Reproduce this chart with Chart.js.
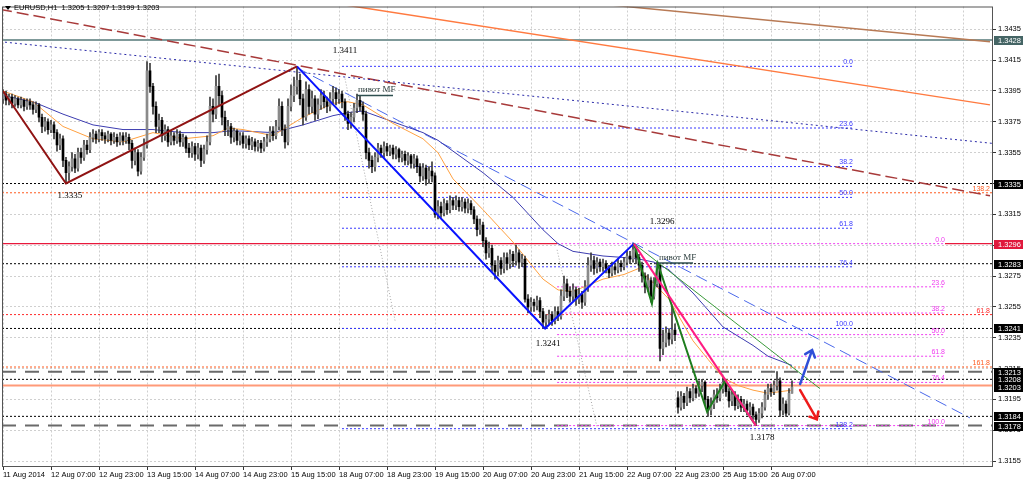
<!DOCTYPE html>
<html>
<head>
<meta charset="utf-8">
<script src="https://cdn.jsdelivr.net/npm/chart.js@4.4.1/dist/chart.umd.min.js"></script>
<style>
  html, body { margin: 0; padding: 0; background: #fff; }
  #wrap { width: 1024px; height: 482px; }
</style>
</head>
<body>
<div id="wrap"><canvas id="eurusdChart"></canvas></div>
<script>
// EURUSD H1, 11 Aug 2014 15:00 .. 26 Aug 2014 14:00, one entry per hourly bar
const closes = [
  1.3393,1.3389,1.3391,1.3387,1.3390,1.3386,1.3389,1.3385,1.3388,1.3386,
  1.3383,1.3386,1.3378,1.3372,1.3375,1.3370,1.3373,1.3368,1.3360,1.3364,
  1.3350,1.3342,1.3346,1.3351,1.3345,1.3355,1.3352,1.3360,1.3357,1.3365,
  1.3367,1.3364,1.3368,1.3366,1.3364,1.3367,1.3363,1.3365,1.3362,1.3366,
  1.3363,1.3365,1.3361,1.3350,1.3355,1.3343,1.3352,1.3360,1.3408,1.3398,
  1.3385,1.3372,1.3376,1.3366,1.3370,1.3362,1.3366,1.3363,1.3367,1.3362,
  1.3365,1.3358,1.3355,1.3359,1.3354,1.3358,1.3350,1.3357,1.3362,1.3385,
  1.3380,1.3398,1.3392,1.3378,1.3370,1.3372,1.3365,1.3369,1.3363,1.3366,
  1.3361,1.3364,1.3360,1.3362,1.3359,1.3361,1.3358,1.3362,1.3364,1.3369,
  1.3366,1.3372,1.3385,1.3370,1.3362,1.3385,1.3392,1.3398,1.3402,1.3390,
  1.3378,1.3396,1.3385,1.3390,1.3380,1.3386,1.3392,1.3388,1.3385,1.3390,
  1.3394,1.3390,1.3393,1.3388,1.3380,1.3374,1.3378,1.3384,1.3389,1.3385,
  1.3380,1.3355,1.3350,1.3346,1.3352,1.3358,1.3355,1.3359,1.3356,1.3358,
  1.3354,1.3357,1.3352,1.3354,1.3350,1.3353,1.3348,1.3351,1.3346,1.3340,
  1.3345,1.3338,1.3343,1.3340,1.3315,1.3320,1.3316,1.3322,1.3318,1.3324,
  1.3321,1.3324,1.3320,1.3323,1.3319,1.3322,1.3318,1.3312,1.3305,1.3308,
  1.3298,1.3290,1.3293,1.3282,1.3278,1.3285,1.3280,1.3287,1.3283,1.3289,
  1.3285,1.3290,1.3284,1.3286,1.3260,1.3255,1.3258,1.3256,1.3259,1.3252,
  1.3245,1.3247,1.3250,1.3246,1.3252,1.3249,1.3262,1.3270,1.3265,1.3262,
  1.3266,1.3260,1.3263,1.3258,1.3268,1.3282,1.3285,1.3280,1.3284,1.3281,
  1.3283,1.3280,1.3277,1.3281,1.3279,1.3283,1.3281,1.3284,1.3288,1.3286,
  1.3292,1.3287,1.3282,1.3275,1.3268,1.3272,1.3262,1.3270,1.3282,1.3228,
  1.3232,1.3238,1.3234,1.3240,1.3237,1.3190,1.3197,1.3193,1.3200,1.3196,
  1.3202,1.3199,1.3204,1.3206,1.3195,1.3188,1.3192,1.3198,1.3196,1.3202,
  1.3206,1.3200,1.3194,1.3198,1.3191,1.3195,1.3190,1.3192,1.3188,1.3190,
  1.3185,1.3182,1.3186,1.3190,1.3198,1.3202,1.3200,1.3204,1.3207,1.3188,
  1.3192,1.3186,1.3199,1.3203
];
const highs = [
  1.3396,1.3395,1.3393,1.3393,1.3392,1.3391,1.3391,1.3390,1.3390,1.3390,
  1.3388,1.3388,1.3387,1.3380,1.3378,1.3377,1.3376,1.3375,1.3370,1.3367,
  1.3366,1.3352,1.3349,1.3355,1.3354,1.3358,1.3358,1.3363,1.3363,1.3368,
  1.3370,1.3369,1.3370,1.3370,1.3368,1.3369,1.3368,1.3368,1.3367,1.3368,
  1.3368,1.3368,1.3367,1.3363,1.3358,1.3357,1.3355,1.3364,1.3414,1.3413,
  1.3400,1.3388,1.3380,1.3378,1.3373,1.3372,1.3369,1.3368,1.3370,1.3369,
  1.3367,1.3366,1.3361,1.3362,1.3361,1.3361,1.3360,1.3360,1.3366,1.3391,
  1.3390,1.3405,1.3406,1.3395,1.3382,1.3376,1.3374,1.3371,1.3370,1.3368,
  1.3368,1.3366,1.3366,1.3365,1.3364,1.3363,1.3363,1.3365,1.3367,1.3372,
  1.3372,1.3376,1.3390,1.3388,1.3373,1.3390,1.3399,1.3404,1.3411,1.3406,
  1.3393,1.3401,1.3399,1.3395,1.3392,1.3390,1.3396,1.3395,1.3391,1.3394,
  1.3398,1.3397,1.3396,1.3395,1.3390,1.3382,1.3381,1.3387,1.3393,1.3392,
  1.3388,1.3382,1.3358,1.3353,1.3355,1.3361,1.3360,1.3362,1.3361,1.3360,
  1.3360,1.3359,1.3358,1.3356,1.3356,1.3355,1.3354,1.3354,1.3353,1.3348,
  1.3348,1.3347,1.3346,1.3349,1.3342,1.3324,1.3323,1.3325,1.3324,1.3327,
  1.3326,1.3327,1.3326,1.3326,1.3325,1.3325,1.3324,1.3320,1.3314,1.3312,
  1.3310,1.3300,1.3297,1.3295,1.3285,1.3288,1.3287,1.3290,1.3290,1.3292,
  1.3291,1.3295,1.3292,1.3289,1.3288,1.3263,1.3261,1.3260,1.3262,1.3261,
  1.3254,1.3250,1.3253,1.3252,1.3255,1.3255,1.3266,1.3275,1.3273,1.3268,
  1.3270,1.3268,1.3267,1.3265,1.3272,1.3287,1.3290,1.3288,1.3287,1.3286,
  1.3286,1.3285,1.3282,1.3284,1.3283,1.3286,1.3285,1.3287,1.3291,1.3291,
  1.3296,1.3294,1.3289,1.3284,1.3277,1.3276,1.3274,1.3274,1.3284,1.3283,
  1.3240,1.3242,1.3241,1.3255,1.3244,1.3200,1.3200,1.3199,1.3203,1.3202,
  1.3205,1.3204,1.3207,1.3208,1.3207,1.3197,1.3196,1.3201,1.3202,1.3205,
  1.3209,1.3208,1.3202,1.3201,1.3200,1.3198,1.3197,1.3195,1.3194,1.3193,
  1.3192,1.3187,1.3189,1.3193,1.3201,1.3205,1.3205,1.3207,1.3213,1.3209,
  1.3196,1.3194,1.3202,1.3207
];
const lows = [
  1.3387,1.3386,1.3386,1.3384,1.3385,1.3384,1.3384,1.3382,1.3383,1.3383,
  1.3380,1.3381,1.3375,1.3368,1.3369,1.3367,1.3368,1.3364,1.3356,1.3357,
  1.3346,1.3335,1.3337,1.3343,1.3342,1.3343,1.3348,1.3350,1.3354,1.3355,
  1.3362,1.3361,1.3362,1.3363,1.3361,1.3362,1.3360,1.3361,1.3359,1.3360,
  1.3360,1.3361,1.3357,1.3345,1.3347,1.3340,1.3341,1.3350,1.3358,1.3394,
  1.3380,1.3368,1.3368,1.3362,1.3363,1.3359,1.3360,1.3360,1.3361,1.3359,
  1.3359,1.3355,1.3352,1.3352,1.3350,1.3351,1.3346,1.3348,1.3354,1.3360,
  1.3375,1.3377,1.3386,1.3373,1.3366,1.3366,1.3361,1.3362,1.3360,1.3360,
  1.3358,1.3358,1.3357,1.3357,1.3356,1.3356,1.3355,1.3356,1.3359,1.3362,
  1.3363,1.3364,1.3370,1.3366,1.3358,1.3360,1.3382,1.3388,1.3393,1.3386,
  1.3373,1.3376,1.3380,1.3381,1.3376,1.3377,1.3383,1.3384,1.3381,1.3382,
  1.3387,1.3386,1.3387,1.3384,1.3376,1.3370,1.3371,1.3375,1.3381,1.3382,
  1.3376,1.3351,1.3345,1.3342,1.3343,1.3349,1.3352,1.3352,1.3353,1.3353,
  1.3351,1.3351,1.3349,1.3349,1.3347,1.3347,1.3345,1.3345,1.3342,1.3336,
  1.3337,1.3334,1.3335,1.3336,1.3313,1.3312,1.3313,1.3314,1.3315,1.3316,
  1.3318,1.3318,1.3317,1.3317,1.3316,1.3316,1.3315,1.3309,1.3301,1.3302,
  1.3294,1.3286,1.3287,1.3278,1.3273,1.3275,1.3276,1.3277,1.3279,1.3280,
  1.3281,1.3282,1.3280,1.3281,1.3258,1.3251,1.3252,1.3252,1.3253,1.3248,
  1.3241,1.3241,1.3244,1.3243,1.3244,1.3246,1.3247,1.3259,1.3261,1.3258,
  1.3259,1.3256,1.3257,1.3254,1.3256,1.3265,1.3278,1.3276,1.3277,1.3278,
  1.3278,1.3277,1.3274,1.3275,1.3276,1.3277,1.3278,1.3279,1.3282,1.3283,
  1.3284,1.3283,1.3278,1.3271,1.3264,1.3265,1.3258,1.3260,1.3268,1.3220,
  1.3224,1.3229,1.3230,1.3231,1.3233,1.3186,1.3188,1.3189,1.3191,1.3193,
  1.3194,1.3196,1.3197,1.3200,1.3191,1.3184,1.3185,1.3189,1.3193,1.3194,
  1.3199,1.3197,1.3190,1.3191,1.3188,1.3189,1.3187,1.3187,1.3185,1.3185,
  1.3182,1.3178,1.3180,1.3183,1.3188,1.3195,1.3197,1.3198,1.3201,1.3184,
  1.3185,1.3184,1.3185,1.3199
];
const firstOpen = 1.3390;
const gapBar = 225;      // Monday 25 Aug opens with a gap
const gapOpen = 1.3196;

// moving averages, read every few bars
const maBars = [0, 10, 20, 30, 40, 50, 60, 70, 75, 80, 90, 100, 110, 115, 120, 130, 140, 145, 150, 160,
  170, 180, 185, 190, 200, 207, 212, 217, 222, 230, 235, 240, 245, 250, 255, 263];
const maFast = [1.3395, 1.3388, 1.3372, 1.3364, 1.3362, 1.3368, 1.3364, 1.3366, 1.3371, 1.3370, 1.3366, 1.3378,
  1.3387, 1.3388, 1.3386, 1.3374, 1.3364, 1.3355, 1.3338, 1.3318, 1.3297, 1.3273, 1.3266, 1.3265, 1.3273,
  1.3276, 1.3280, 1.3270, 1.3260, 1.3233, 1.3221, 1.3209, 1.3204, 1.3201, 1.3199, 1.3201];
const maSlow = [1.3392, 1.3388, 1.3380, 1.3373, 1.3370, 1.3370, 1.3368, 1.3368, 1.3369, 1.3369, 1.3368, 1.3373,
  1.3379, 1.3381, 1.3382, 1.3375, 1.3368, 1.3363, 1.3356, 1.3342, 1.3326, 1.3305, 1.3296, 1.3291, 1.3288,
  1.3287, 1.3286, 1.3284, 1.3279, 1.3264, 1.3253, 1.3242, 1.3236, 1.3230, 1.3223, 1.3217];

// axis ticks
const yTicks = [1.3155, 1.3175, 1.3195, 1.3215, 1.3235, 1.3255, 1.3275, 1.3295, 1.3315, 1.3335,
  1.3355, 1.3375, 1.3395, 1.3415, 1.3435];
const xTickBars = [0, 16, 32, 48, 64, 80, 96, 112, 128, 144, 160, 176, 192, 208, 224, 240, 256,
  272, 288, 304, 320];
const xTickLabels = ['11 Aug 2014', '12 Aug 07:00', '12 Aug 23:00', '13 Aug 15:00', '14 Aug 07:00',
  '14 Aug 23:00', '15 Aug 15:00', '18 Aug 07:00', '18 Aug 23:00', '19 Aug 15:00', '20 Aug 07:00',
  '20 Aug 23:00', '21 Aug 15:00', '22 Aug 07:00', '22 Aug 23:00', '25 Aug 15:00', '26 Aug 07:00'];

// swing points [bar, price]
const zigRed = [[0, 1.3395], [21, 1.3335], [98, 1.3411]];
const zigBlue = [[98, 1.3411], [180.7, 1.3241], [210.3, 1.3296]];
const zigPink = [[210.3, 1.3296], [251, 1.3178]];
const zigGreen = [[210.3, 1.3296], [216.3, 1.3257], [218.3, 1.3283], [234.7, 1.3187], [240.7, 1.3207], [251, 1.3178]];
const trendGreen = [[210.3, 1.3296], [272.3, 1.3202]];
const trendBrown = [[180, 1.3455], [329, 1.3427]];
const trendOrange = [[100, 1.3455], [329, 1.3386]];
const trendNavyDots = [[-1, 1.3427], [330, 1.3361]];
const trendMaroonDash = [[-1, 1.3448], [329, 1.3327]];
const trendBlueDash = [[98, 1.3410], [322.3, 1.3183]];
const grayRayA = [[114, 1.3403], [130.7, 1.3246]];
const grayRayB = [[184.7, 1.3292], [198, 1.3177]];

// fibonacci levels
const blueFibLabels = ['0.0', '23.6', '38.2', '50.0', '61.8', '76.4', '100.0', '138.2'];
const blueFibPrices = [1.3411, 1.3371, 1.3346, 1.3326, 1.3306, 1.3281, 1.3241, 1.3176];
const blueFibSpan = [113, 283.3];
const pinkFibLabels = ['0.0', '23.6', '38.2', '50.0', '61.8', '76.4', '100.0'];
const pinkFibPrices = [1.3296, 1.3268, 1.3251, 1.3237, 1.3223, 1.3206, 1.3178];
const pinkFibSpan = [184.7, 314];
const extLabels = ['138.2', '61.8', '161.8'];
const extPrices = [1.3329, 1.3250, 1.3216];
const extColors = ['#ff5a1e', '#ff2a2a', '#ff5a1e'];

// horizontal levels across the chart
const blackLevels = [1.3335, 1.3283, 1.3241, 1.3208, 1.3184];
const grayDashLevels = [1.3213, 1.3178];
const levelTop = 1.3428;
const levelRed = 1.3296;
const levelBid = 1.3204;

// price tags on the right axis
const tagPrices = [1.3428, 1.3335, 1.3296, 1.3283, 1.3241, 1.3213, 1.3208, 1.3203, 1.3184, 1.3178];
const tagColors = ['#456565', '#000', '#e0183c', '#000', '#000', '#000', '#000', '#000', '#000', '#000'];

// text notes
const priceNotes = [
  { text: '1.3411', bar: 114, price: 1.3411, dy: -16 },
  { text: '1.3335', bar: 22.3, price: 1.3335, dy: 12 },
  { text: '1.3296', bar: 219.7, price: 1.3296, dy: -22 },
  { text: '1.3241', bar: 181.7, price: 1.3241, dy: 15 },
  { text: '1.3178', bar: 253, price: 1.3178, dy: 12 }
];
const pivotNotes = [
  { text: 'пивот MF', from: 118, to: 130, price: 1.3392 },
  { text: 'пивот MF', from: 218.3, to: 230, price: 1.32835 }
];
const arrowUp = { from: [265.7, 1.3205], to: [269.7, 1.3227], color: '#2f4fd8' };
const arrowDown = { from: [265.7, 1.3201], to: [271.3, 1.3182], color: '#ee1a1a' };
const quote = { symbol: 'EURUSD,H1', values: ['1.3205', '1.3207', '1.3199', '1.3203'] };

const X_MIN = -1 / 3, X_MAX = 330;
const Y_MIN = 1.31518, Y_MAX = 1.34498;

const opens = closes.map((c, i) => i === 0 ? firstOpen : (i === gapBar ? gapOpen : closes[i - 1]));

const line = (pts, color, width, dash, order) => ({
  type: 'line',
  data: pts.map(p => ({ x: p[0], y: p[1] })),
  borderColor: color,
  borderWidth: width,
  borderDash: dash || [],
  pointRadius: 0,
  pointHoverRadius: 0,
  fill: false,
  tension: 0,
  clip: 0,
  order: order
});
const hline = (price, from, to, color, width, dash, order) =>
  line([[from, price], [to, price]], color, width, dash, order);

const datasets = [];
// long horizontal levels
datasets.push(hline(levelTop, X_MIN, X_MAX, '#7f9a9a', 2, [], 70));
datasets.push(hline(levelRed, X_MIN, pinkFibSpan[0], '#e8183c', 1.2, [], 70));
datasets.push(hline(levelRed, pinkFibSpan[1], X_MAX, '#e8183c', 1.2, [], 70));
datasets.push(hline(levelBid, X_MIN, X_MAX, '#ff9a78', 2, [], 70));
blackLevels.forEach(p => datasets.push(hline(p, X_MIN, X_MAX, '#000', 1, [2, 2], 68)));
grayDashLevels.forEach(p => datasets.push(hline(p, X_MIN, X_MAX, '#6a6a6a', 2, [14, 9], 69)));
extPrices.forEach((p, i) => datasets.push(hline(p, X_MIN, X_MAX, extColors[i], 1, [2, 2], 67)));
// fibonacci
blueFibPrices.forEach(p => datasets.push(hline(p, blueFibSpan[0], blueFibSpan[1], '#3a3aff', 1, [2, 2], 60)));
pinkFibPrices.forEach(p => datasets.push(hline(p, pinkFibSpan[0], pinkFibSpan[1], '#f03cf0', 1, [2, 2], 60)));
// long trend lines
datasets.push(line(trendBrown, '#b87a55', 1.5, [], 55));
datasets.push(line(trendOrange, '#ff7a40', 1.5, [], 55));
datasets.push(line(trendNavyDots, '#2a2aa8', 1, [2, 3], 55));
datasets.push(line(trendMaroonDash, '#a83a3a', 1.5, [12, 5], 55));
datasets.push(line(trendBlueDash, '#4a68ea', 1, [12, 6], 55));
datasets.push(line(grayRayA, '#a8a8a8', 1, [1, 2], 55));
datasets.push(line(grayRayB, '#a8a8a8', 1, [1, 2], 55));
// moving averages
datasets.push(line(maBars.map((b, i) => [b, maFast[i]]), '#ffa040', 1, [], 40));
datasets.push(line(maBars.map((b, i) => [b, maSlow[i]]), '#3c3cb0', 1, [], 40));
// candles
datasets.push({
  type: 'bar',
  data: closes.map((c, i) => ({ x: i, y: [lows[i], highs[i]] })),
  backgroundColor: '#3a3a3a',
  barThickness: 1,
  grouped: false,
  order: 31
});
datasets.push({
  type: 'bar',
  data: closes.map((c, i) => ({ x: i, y: [opens[i], c] })),
  backgroundColor: closes.map((c, i) => c >= opens[i] ? '#8a8a8a' : '#000'),
  barThickness: 2,
  minBarLength: 1,
  grouped: false,
  order: 30
});
// swings
datasets.push(line(trendGreen, '#3a9a3a', 1, [], 12));
datasets.push(line(zigRed, '#901414', 2, [], 10));
datasets.push(line(zigBlue, '#0a14ff', 2, [], 10));
datasets.push(line(zigGreen, '#1e7d1e', 2, [], 9));
datasets.push(line(zigPink, '#ff1c82', 2, [], 8));

const overlay = {
  id: 'overlay',
  afterDatasetsDraw(chart) {
    const ctx = chart.ctx, xs = chart.scales.x, ys = chart.scales.y;
    const X = b => xs.getPixelForValue(b), Y = p => ys.getPixelForValue(p);
    ctx.save();
    // fib labels
    ctx.font = '7px "Liberation Sans"';
    ctx.textAlign = 'right';
    ctx.textBaseline = 'bottom';
    ctx.fillStyle = '#3a3aff';
    blueFibLabels.forEach((t, i) => ctx.fillText(t, X(blueFibSpan[1]), Y(blueFibPrices[i]) - 0.5));
    ctx.fillStyle = '#f03cf0';
    pinkFibLabels.forEach((t, i) => ctx.fillText(t, X(pinkFibSpan[1]), Y(pinkFibPrices[i]) - 0.5));
    extLabels.forEach((t, i) => {
      ctx.fillStyle = extColors[i];
      ctx.fillText(t, X(329), Y(extPrices[i]) - 0.5);
    });
    // price notes
    ctx.font = '9px "Liberation Serif"';
    ctx.textAlign = 'center';
    ctx.textBaseline = 'middle';
    ctx.fillStyle = '#000';
    priceNotes.forEach(n => ctx.fillText(n.text, X(n.bar), Y(n.price) + n.dy));
    // pivot notes
    pivotNotes.forEach(n => {
      const y = Y(n.price);
      ctx.strokeStyle = '#2f5050';
      ctx.lineWidth = 1.5;
      ctx.beginPath();
      ctx.moveTo(X(n.from), y);
      ctx.lineTo(X(n.to), y);
      ctx.stroke();
      ctx.fillStyle = '#2f4040';
      ctx.textAlign = 'left';
      ctx.textBaseline = 'bottom';
      ctx.fillText(n.text, X(n.from) + 1, y - 1);
    });
    // arrows
    [arrowUp, arrowDown].forEach(a => {
      const x1 = X(a.from[0]), y1 = Y(a.from[1]), x2 = X(a.to[0]), y2 = Y(a.to[1]);
      const ang = Math.atan2(y2 - y1, x2 - x1);
      ctx.strokeStyle = a.color;
      ctx.lineWidth = 2.5;
      ctx.lineCap = 'round';
      ctx.beginPath();
      ctx.moveTo(x1, y1);
      ctx.lineTo(x2, y2);
      ctx.moveTo(x2 - 8 * Math.cos(ang - 0.7), y2 - 8 * Math.sin(ang - 0.7));
      ctx.lineTo(x2, y2);
      ctx.lineTo(x2 - 8 * Math.cos(ang + 0.7), y2 - 8 * Math.sin(ang + 0.7));
      ctx.stroke();
    });
    ctx.restore();
  },
  afterDraw(chart) {
    const ctx = chart.ctx, area = chart.chartArea, ys = chart.scales.y;
    ctx.save();
    // frame
    ctx.strokeStyle = '#555';
    ctx.lineWidth = 1;
    ctx.strokeRect(area.left + 0.5, area.top + 0.5, area.right - area.left - 1, area.bottom - area.top);
    // price tags
    ctx.font = '7.5px "Liberation Sans"';
    ctx.textAlign = 'left';
    ctx.textBaseline = 'middle';
    tagPrices.forEach((p, i) => {
      const y = Math.round(ys.getPixelForValue(p));
      ctx.fillStyle = tagColors[i];
      ctx.fillRect(area.right + 1, y - 4, 29, 9);
      ctx.fillStyle = '#fff';
      ctx.fillText(p.toFixed(4), area.right + 5, y + 0.5);
    });
    // symbol header
    ctx.fillStyle = '#000';
    ctx.beginPath();
    ctx.moveTo(5, 6); ctx.lineTo(11, 6); ctx.lineTo(8, 10); ctx.closePath();
    ctx.fill();
    ctx.font = '7.5px "Liberation Sans"';
    ctx.textBaseline = 'middle';
    ctx.fillText(quote.symbol + '  ' + quote.values.join(' '), 14, 8);
    ctx.restore();
  }
};

new Chart(document.getElementById('eurusdChart'), {
  type: 'bar',
  data: { datasets: datasets },
  options: {
    responsive: true,
    maintainAspectRatio: false,
    animation: false,
    events: [],
    layout: { padding: { left: 2, top: 2, right: 0, bottom: 0 } },
    plugins: { legend: { display: false }, tooltip: { enabled: false } },
    scales: {
      x: {
        type: 'linear',
        min: X_MIN,
        max: X_MAX,
        offset: false,
        afterBuildTicks: s => { s.ticks = xTickBars.map(v => ({ value: v })); },
        afterFit: s => { s.height = 16; },
        grid: {
          color: '#cfcfcf',
          offset: false,
          tickLength: 4,
          tickColor: c => (c.index < xTickLabels.length ? '#333' : 'rgba(0,0,0,0)')
        },
        border: { display: false, dash: [2, 2] },
        ticks: {
          autoSkip: false,
          maxRotation: 0,
          align: 'start',
          padding: 0,
          color: '#000',
          font: { family: 'Liberation Sans', size: 7.5 },
          callback: v => xTickLabels[xTickBars.indexOf(v)] || ''
        }
      },
      y: {
        type: 'linear',
        position: 'right',
        min: Y_MIN,
        max: Y_MAX,
        afterBuildTicks: s => { s.ticks = yTicks.map(v => ({ value: v })); },
        afterFit: s => { s.width = 31; },
        grid: { color: '#cfcfcf', tickLength: 3, tickColor: '#333' },
        border: { display: false, dash: [2, 2] },
        ticks: {
          padding: 2,
          color: '#000',
          font: { family: 'Liberation Sans', size: 7.5 },
          callback: v => v.toFixed(4)
        }
      }
    }
  },
  plugins: [overlay]
});
</script>
</body>
</html>
